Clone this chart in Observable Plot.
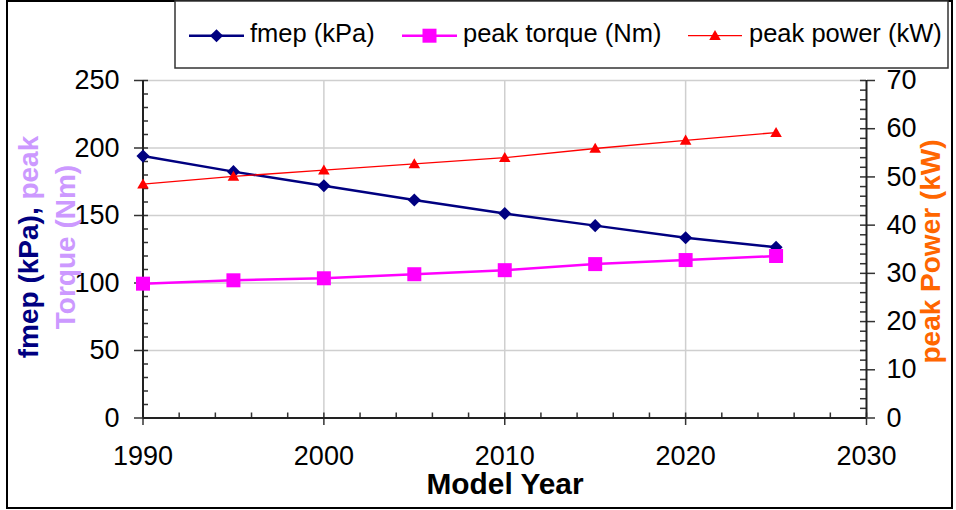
<!DOCTYPE html>
<html>
<head>
<meta charset="utf-8">
<script src="https://cdn.jsdelivr.net/npm/d3@7"></script>
<script src="https://cdn.jsdelivr.net/npm/@observablehq/plot@0.6"></script>
<style>
  html, body { margin: 0; padding: 0; background: #fff; }
  #chart { width: 956px; height: 510px; }
</style>
</head>
<body>
<div id="chart"></div>
<script>
// ---- data ----
const years = [1990, 1995, 2000, 2005, 2010, 2015, 2020, 2025];
const fmep = [194, 182.5, 172, 161.5, 151.5, 142.5, 133.5, 126.5];      // kPa (left axis)
const torque = [99.5, 102, 103.5, 106.5, 109.5, 114, 117, 120];       // Nm (left axis)
const power = [48.5, 50.1, 51.4, 52.7, 54.0, 55.9, 57.6, 59.2];       // kW (right axis)

const leftTicks = [0, 50, 100, 150, 200, 250];
const rightTicks = [0, 10, 20, 30, 40, 50, 60, 70];
const xTicks = [1990, 2000, 2010, 2020, 2030];
const leftMax = 250, rightMax = 70;

const seriesNames = ["fmep (kPa)", "peak torque (Nm)", "peak power (kW)"];
const seriesColors = ["#000080", "#ff00ff", "#ff0000"];

// ---- layout ----
const W = 956, H = 510;
const mL = 142.5, mR = W - 866, mT = 80, mB = H - 417.5;
const plotW = W - mL - mR, plotH = H - mT - mB;
const FONT = "'Liberation Sans', Arial, Helvetica, sans-serif";

const toLeft = p => p * leftMax / rightMax;
const rows = years.map((y, i) => ({year: y, fmep: fmep[i], torque: torque[i], power: toLeft(power[i])}));

const leftMinor = d3.range(0, leftMax + 1, 10);
const rightMinor = d3.range(0, rightMax + 1, 2).map(toLeft);
const xMinor = d3.range(1990, 2031, 2);
const gridYv = leftTicks.filter(d => d > 0);
const gridXv = xTicks.filter(d => d > 1990 && d < 2030);

const tickColor = "#333";

const plot = Plot.plot({
  width: W, height: H,
  marginLeft: mL, marginRight: mR, marginTop: mT, marginBottom: mB,
  x: {domain: [1990, 2030]},
  y: {domain: [0, leftMax]},
  style: {fontFamily: FONT, background: "white", color: "black", overflow: "visible"},
  marks: [
    Plot.gridY(gridYv, {stroke: "#cfcfcf", strokeOpacity: 1, strokeWidth: 1.5}),
    Plot.gridX(gridXv, {stroke: "#cfcfcf", strokeOpacity: 1, strokeWidth: 1.5}),
    // minor (inward) ticks
    Plot.tickY(leftMinor, {y: d => d, stroke: tickColor, strokeWidth: 1.5, insetRight: plotW - 5.5}),
    Plot.tickY(rightMinor, {y: d => d, stroke: tickColor, strokeWidth: 1.5, insetLeft: plotW - 6}),
    Plot.tickX(xMinor, {x: d => d, stroke: tickColor, strokeWidth: 1.5, insetTop: plotH - 5}),
    // axes
    Plot.axisY({anchor: "left", ticks: leftTicks, tickSize: 8.5, tickPadding: 15, fontSize: 27,
      tickFormat: d => String(d), label: null, stroke: tickColor, strokeWidth: 1.5}),
    Plot.axisY({anchor: "right", ticks: rightTicks.map(toLeft), tickSize: 8, tickPadding: 12, fontSize: 27,
      tickFormat: d => String(Math.round(d * rightMax / leftMax)), label: null, stroke: tickColor, strokeWidth: 1.5}),
    Plot.axisX({ticks: xTicks, tickSize: 7.5, tickPadding: 20, fontSize: 27,
      tickFormat: d => String(d), label: null, stroke: tickColor, strokeWidth: 1.5}),
    Plot.ruleX([1990, 2030], {stroke: "#222", strokeWidth: 2}),
    Plot.ruleY([0], {stroke: "#222", strokeWidth: 2}),
    // series
    Plot.line(rows, {x: "year", y: "fmep", stroke: seriesColors[0], strokeWidth: 2.5}),
    Plot.dot(rows, {x: "year", y: "fmep", symbol: "diamond2", r: 5.9, fill: seriesColors[0], stroke: null}),
    Plot.line(rows, {x: "year", y: "torque", stroke: seriesColors[1], strokeWidth: 2.5}),
    Plot.dot(rows, {x: "year", y: "torque", symbol: "square", r: 7.9, fill: seriesColors[1], stroke: null}),
    Plot.line(rows, {x: "year", y: "power", stroke: seriesColors[2], strokeWidth: 1.3}),
    Plot.dot(rows, {x: "year", y: "power", symbol: "triangle", r: 4.3, fill: seriesColors[2], stroke: null, dy: 1})
  ]
});

document.getElementById("chart").appendChild(plot);

// ---- decorations: frame, legend, axis titles ----
const svg = d3.select(plot);

svg.append("rect").attr("x", 7).attr("y", 1).attr("width", 945).attr("height", 507)
  .attr("fill", "none").attr("stroke", "black").attr("stroke-width", 2);

const lg = svg.append("g").attr("text-anchor", "start");
lg.append("rect").attr("x", 175).attr("y", 1).attr("width", 773).attr("height", 67)
  .attr("fill", "white").attr("stroke", "#333").attr("stroke-width", 1.5);

const legendItems = [
  {x0: 189, x1: 244, tx: 250, sym: d3.symbolDiamond2, r: 5.9, sw: 2.5},
  {x0: 402, x1: 457, tx: 463, sym: d3.symbolSquare, r: 7.9, sw: 2.5},
  {x0: 688, x1: 742, tx: 749, sym: d3.symbolTriangle, r: 4.3, sw: 1.3}
];
const ly = 35.7;
legendItems.forEach((it, i) => {
  lg.append("line").attr("x1", it.x0).attr("x2", it.x1).attr("y1", ly).attr("y2", ly)
    .attr("stroke", seriesColors[i]).attr("stroke-width", it.sw);
  lg.append("path").attr("d", d3.symbol(it.sym, it.r * it.r * Math.PI)())
    .attr("transform", `translate(${(it.x0 + it.x1) / 2},${ly + (i === 2 ? 1 : 0)})`)
    .attr("fill", seriesColors[i]);
  lg.append("text").attr("x", it.tx).attr("y", 42).attr("text-anchor", "start").attr("font-family", FONT)
    .attr("font-size", 25.5).attr("fill", "black").text(seriesNames[i]);
});

// x-axis title
svg.append("text").attr("x", 505).attr("y", 494).attr("text-anchor", "middle")
  .attr("font-family", FONT).attr("font-weight", "bold").attr("font-size", 29)
  .attr("textLength", 157).attr("lengthAdjust", "spacingAndGlyphs")
  .attr("fill", "black").text("Model Year");

// left title (two lines, rotated)
const lt = svg.append("text").attr("transform", "translate(38,247) rotate(-90)")
  .attr("text-anchor", "middle").attr("font-family", FONT).attr("font-weight", "bold").attr("font-size", 28);
lt.append("tspan").attr("fill", "#000080").text("fmep (kPa),");
lt.append("tspan").attr("fill", "#cc99ff").text(" peak");
svg.append("text").attr("transform", "translate(75,247) rotate(-90)")
  .attr("text-anchor", "middle").attr("font-family", FONT).attr("font-weight", "bold").attr("font-size", 28)
  .attr("fill", "#cc99ff").text("Torque (Nm)");

// right title
svg.append("text").attr("transform", "translate(940,251.5) rotate(-90)")
  .attr("text-anchor", "middle").attr("font-family", FONT).attr("font-weight", "bold").attr("font-size", 28)
  .attr("fill", "#ff6600").text("peak Power (kW)");
</script>
</body>
</html>
